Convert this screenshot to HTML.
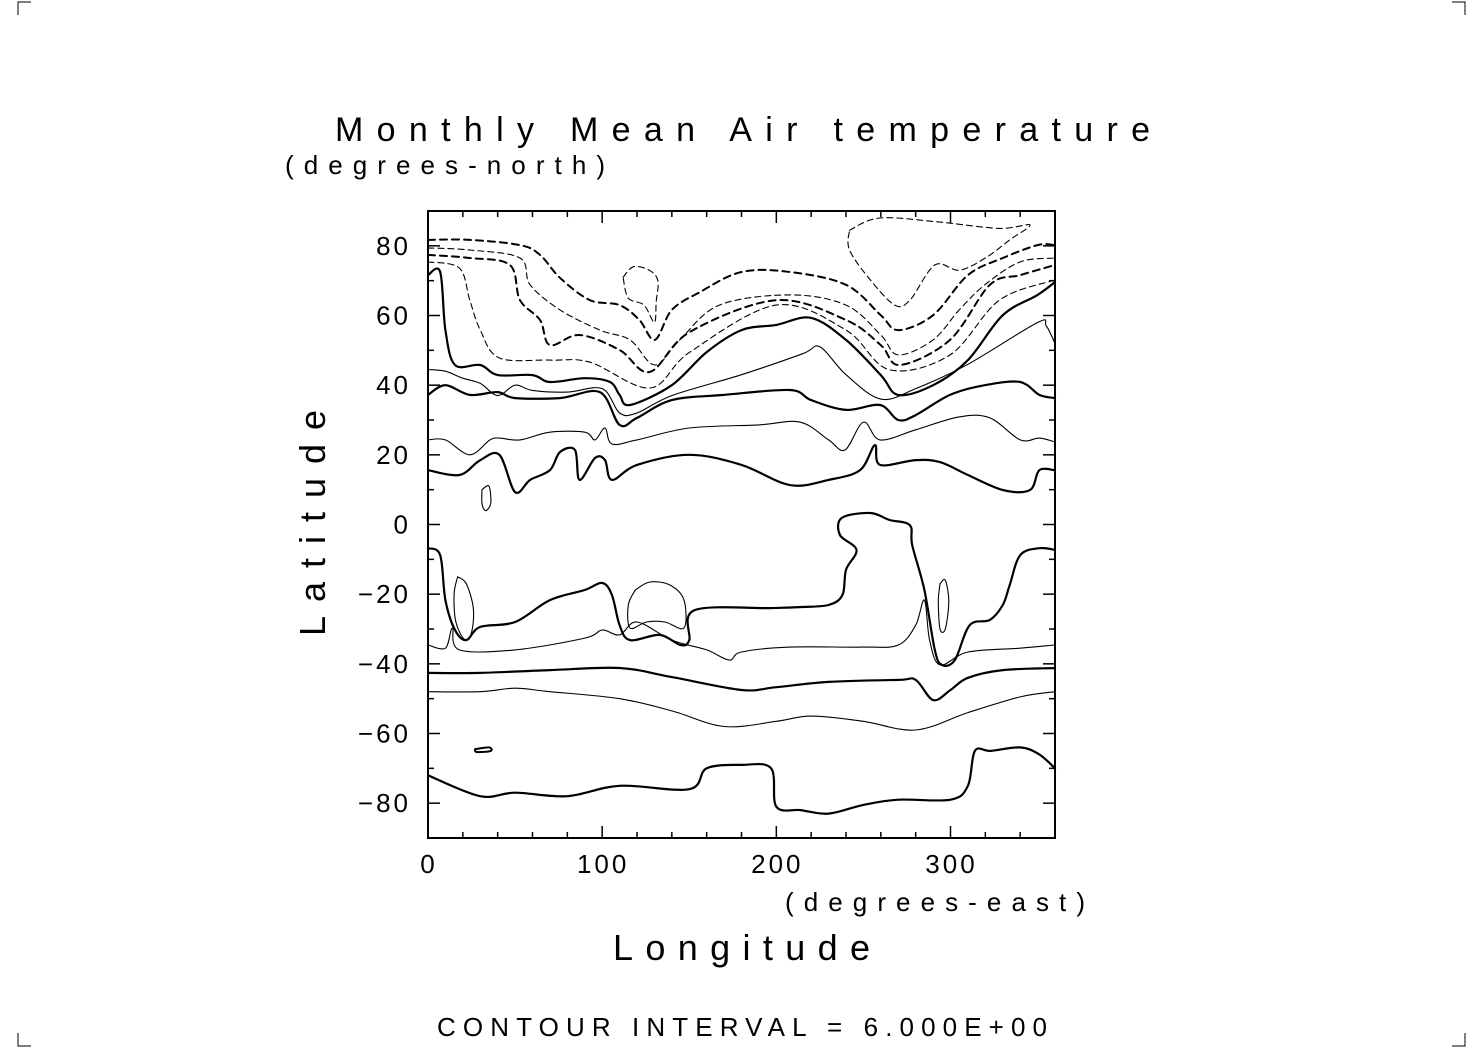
<!DOCTYPE html>
<html><head><meta charset="utf-8"><style>
html,body{margin:0;padding:0;background:#fff;}
svg{display:block;font-family:"Liberation Sans",sans-serif;}
</style></head><body>
<svg id="chart" width="1483" height="1049" viewBox="0 0 1483 1049" xmlns="http://www.w3.org/2000/svg">
<g stroke="#000" stroke-width="1" fill="none">
<path d="M18 15 V2 H31"/><path d="M1452 2 H1465 V15"/><path d="M18 1033 V1046 H31"/><path d="M1452 1046 H1465 V1033"/>
</g>
<text x="335" y="141" font-size="34" textLength="815" lengthAdjust="spacing">Monthly Mean Air temperature</text>
<text x="285" y="174" font-size="26" textLength="320" lengthAdjust="spacing">(degrees-north)</text>
<text x="785" y="911" font-size="26" textLength="300" lengthAdjust="spacing">(degrees-east)</text>
<text x="613" y="960" font-size="36" textLength="257" lengthAdjust="spacing">Longitude</text>
<text transform="translate(325,636) rotate(-90)" font-size="36" textLength="226" lengthAdjust="spacing">Latitude</text>
<text x="437" y="1036" font-size="26" textLength="610" lengthAdjust="spacing">CONTOUR INTERVAL = 6.000E+00</text>
<g id="axes"></g>
<g id="contours" fill="none" stroke="#000" stroke-linejoin="round" stroke-linecap="round"></g>
<rect x="428" y="211" width="627" height="627" fill="none" stroke="#000" stroke-width="2"/>
</svg>
<script>
const xTicks=[0,100,200,300];
const yTicks=[80,60,40,20,0,-20,-40,-60,-80];
const xTickLabels=["0","100","200","300"];
const yTickLabels=["80","60","40","20","0","\u221220","\u221240","\u221260","\u221280"];
const cBottom=[[0,-72],[30,-78],[50,-77],[80,-78],[110,-75],[150,-76],[160,-70],[180,-69],[197,-70],[200,-81],[214,-82],[230,-83],[250,-80.5],[270,-79],[300,-79],[310,-75],[314,-65],[323,-65],[340,-64],[351,-66],[360,-70]];
const cSmallSouth=[[27,-64.5],[35,-64],[36,-65],[28,-65.3],[27,-64.5]];
const cM48=[[0,-48],[30,-48],[50,-47],[70,-48],[110,-50],[140,-53.5],[170,-58],[200,-56.5],[220,-55],[250,-56.5],[280,-59],[310,-54],[340,-49.5],[360,-48]];
const cM42=[[0,-42.6],[30,-42.6],[70,-41.8],[110,-41.2],[140,-43.8],[180,-47.5],[200,-46.7],[230,-45.2],[270,-44.6],[280,-44.6],[290,-50.4],[300,-47.5],[310,-44],[330,-41.8],[360,-41.2]];
const cM36=[[0,-34.6],[10,-35.5],[14,-29.7],[18,-36],[50,-36],[90,-32.6],[100,-30.3],[110,-31.7],[120,-28],[140,-33.2],[160,-36],[173,-38.9],[180,-36.6],[208,-35.2],[250,-35.2],[270,-34.6],[280,-28.9],[285,-21.7],[288,-33.2],[294,-40.3],[310,-36.6],[340,-35.5],[360,-34.6]];
const cBig=[[0,-6.8],[7,-8.8],[10,-21.7],[15.5,-30.3],[22,-33.2],[30,-29.4],[50,-28],[70,-21.7],[90,-18.8],[100,-16.8],[105.6,-20.2],[110,-28.9],[116,-33.2],[133,-31.7],[145,-34.6],[150,-33.2],[153,-24.6],[196,-24],[213.5,-23.7],[230,-23.1],[238,-20.2],[240,-13],[246,-7.3],[236.5,-3],[237.6,1.9],[254,3.3],[265,1.3],[276.7,-0.2],[278,-5.9],[285,-18.8],[291,-36],[295,-40.3],[302.5,-38.9],[311,-28.9],[322.6,-27.4],[330,-23.1],[334,-17.4],[340,-8.8],[351,-6.8],[360,-7.3]];
const cLoopA=[[17,-15],[22,-17],[26,-24],[25,-31],[21,-33],[16,-28],[15,-20],[17,-15]];
const cLoopB=[[119,-18.8],[127.4,-16.5],[139,-17.4],[147,-21.7],[147,-29.7],[136,-28],[125.4,-28],[116,-29.7],[115,-23.1],[119,-18.8]];
const cLoopC=[[294,-17],[297,-16],[299,-22],[297,-30],[294,-30],[293,-22],[294,-17]];
const cP15=[[0,15.6],[18,14.2],[30,18.5],[41,20],[50,9.3],[58.6,12.8],[70,15.6],[75.8,20.8],[84.4,21.4],[87,12.8],[95.9,19.1],[101.6,18.5],[105.6,12.8],[120,17.1],[150,20],[180,17.1],[207.8,11.3],[230,12.8],[248,15.6],[256.6,22.8],[259.5,17.1],[280,18.5],[294,17.9],[310,14.2],[330,9.9],[345.6,9.9],[351,15.6],[360,15.6]];
const cLoopD=[[31,10],[35,11],[36,6],[33,4],[31,6],[31,10]];
const cP24=[[0,24.3],[10,24.3],[24,20],[35.6,24.3],[41,24.8],[52.8,24.3],[70,26.5],[90,26.5],[95.9,24.3],[101.6,27.7],[105.6,23.1],[120,24.3],[150,27.7],[190,28.6],[213.5,29.4],[230,24.3],[239.4,21.4],[250,29.4],[259.5,24.3],[280,27.2],[305,30.9],[322.6,30.6],[340,24.3],[351,24.8],[360,23.7]];
const cP36=[[0,37.2],[10,40],[24,37.2],[40,38],[50,36.3],[75.8,36.3],[98.7,38],[110,28.6],[120,30.6],[140,35.7],[170,37.2],[207.8,38.6],[220,35.7],[240,32.9],[259.5,34.3],[270,30],[280,31.4],[299.7,37.2],[319.7,40],[340,40.9],[351,37.2],[360,36.3]];
const cP42=[[0,44.5],[10,44],[20,42],[30,40.5],[40,37],[50,40],[60,38.5],[80,38],[100,39],[110,32],[120,32],[140,37],[180,43],[215,49],[225,51],[240,43],[260,36],[280,39],[310,46],[350,58],[355,57],[360,52]];
const cP48=[[0,71.6],[7,72.5],[10,55.8],[15.5,45.8],[30,45.8],[40,42.9],[60,42.9],[70,40.9],[90,42],[104.5,40.9],[110,37.2],[116,34.3],[140,40],[160,49.5],[180,55.8],[200,57.3],[220,59.3],[240,53],[260,42.9],[270,37.2],[290,40],[310,47.2],[330,60.1],[350,65.9],[360,69.6]];
const dA=[[0,81.7],[24,81.7],[52.8,80.2],[64.3,77.4],[75.8,70.8],[93,64.4],[110,63],[121.4,58.7],[130.3,53],[140,61.6],[156,66.7],[180,72.5],[207.8,72.5],[240,68.8],[260,60.1],[270,55.8],[290,60.1],[310,71.6],[330,76.5],[350,80.2],[360,80.2]];
const dB=[[0,79.4],[24,78.8],[52.8,76.5],[58.6,68.8],[75.8,61.6],[98.7,55.8],[116,53],[130.3,45.8],[144.6,53],[167.3,63],[207.8,65.9],[240,63],[260,54.4],[270,48.7],[290,53],[305,61.6],[319.7,68.8],[340,75.4],[360,76.5]];
const dC=[[0,77.4],[24,76.5],[47,74.5],[52.8,64.4],[64.3,58.7],[70,51.5],[87,54.4],[110,50.1],[127.4,43.8],[150.4,55.3],[200,64.4],[240,58.7],[260,51.5],[271,45.8],[299.7,53],[322.6,68.8],[340,71.6],[360,74.5]];
const dD=[[0,75.4],[18,73.6],[24,64.4],[30,55.8],[41,47.8],[70,47.2],[93,46.6],[127.4,39.2],[150.4,49.5],[200,63],[240,55.8],[265,44.4],[299.7,48.7],[328,64.4],[360,70.2]];
const dLoopE=[[112,71],[118,74],[127,73],[132,70],[131,64],[130,58],[124,63],[115,65],[112,71]];
const dLoopF=[[242,84.5],[259.5,88],[294,86.8],[328,85],[345.6,86],[334,81.7],[320,76.5],[305,73],[291,74.5],[276.7,64.4],[268,63],[254,70.2],[242,78.8],[242,84.5]];

const X0=428,X1=1055,Y0=838,Y1=211;
function xs(lon){return X0+(lon-0)/(360-0)*(X1-X0);}
function ys(lat){return Y0-(lat+90)/180*(Y0-Y1);}
const NS="http://www.w3.org/2000/svg";
const axes=document.getElementById('axes');
const cg=document.getElementById('contours');
function mk(tag,attrs,parent){const e=document.createElementNS(NS,tag);for(const k in attrs)e.setAttribute(k,attrs[k]);parent.appendChild(e);return e;}
for(let lat=-80;lat<=80;lat+=10){
  const len=(lat%20===0)?12:6;const y=ys(lat);
  const t1=mk('line',{x1:X0,x2:X0+len,y1:y,y2:y,stroke:'#000','stroke-width':1.5},axes);
  
  
  const t2=mk('line',{x1:X1,x2:X1-len,y1:y,y2:y,stroke:'#000','stroke-width':1.5},axes);
  
  
}
for(let lon=20;lon<360;lon+=20){
  const len=(lon%100===0)?12:6;const x=xs(lon);
  const t1=mk('line',{x1:x,x2:x,y1:Y0,y2:Y0-len,stroke:'#000','stroke-width':1.5},axes);
  
  
  const t2=mk('line',{x1:x,x2:x,y1:Y1,y2:Y1+len,stroke:'#000','stroke-width':1.5},axes);
  
  
}
yTicks.forEach((v,i)=>{
  const t=mk('text',{x:411,y:ys(v)+9,'font-size':26,'text-anchor':'end','letter-spacing':3},axes);
  t.textContent=yTickLabels[i];
  
  
});
xTicks.forEach((v,i)=>{
  const t=mk('text',{x:xs(v)+1,y:873,'font-size':26,'text-anchor':'middle','letter-spacing':3},axes);
  t.textContent=xTickLabels[i];
  
  
});
function smoothPath(pts){
  const P=pts.map(q=>[xs(q[0]),ys(q[1])]);
  let d='M'+P[0][0].toFixed(1)+' '+P[0][1].toFixed(1);
  for(let i=0;i<P.length-1;i++){
    const p0=P[Math.max(0,i-1)],p1=P[i],p2=P[i+1],p3=P[Math.min(P.length-1,i+2)];
    const c1=[p1[0]+(p2[0]-p0[0])/6,p1[1]+(p2[1]-p0[1])/6];
    const c2=[p2[0]-(p3[0]-p1[0])/6,p2[1]-(p3[1]-p1[1])/6];
    d+=' C'+c1[0].toFixed(1)+' '+c1[1].toFixed(1)+' '+c2[0].toFixed(1)+' '+c2[1].toFixed(1)+' '+p2[0].toFixed(1)+' '+p2[1].toFixed(1);
  }
  return d;
}
const lines=[
 [cBottom,2.2,null],[cSmallSouth,2,null],[cM48,1.1,null],[cM42,2.2,null],[cM36,1.1,null],
 [cBig,2.2,null],[cLoopA,1.1,null],[cLoopB,1.1,null],[cLoopC,1.1,null],
 [cP15,2.2,null],[cLoopD,1.1,null],[cP24,1.1,null],[cP36,2.2,null],[cP42,1.1,null],[cP48,2.2,null],
 [dA,2,'7 5'],[dB,1.1,'6 4'],[dC,2,'7 5'],[dD,1.1,'6 4'],[dLoopE,1.1,'6 4'],[dLoopF,1.1,'6 4']
];
lines.forEach(([pts,w,dash])=>{
  const p=mk('path',{d:smoothPath(pts),'stroke-width':w},cg);
  if(dash)p.setAttribute('stroke-dasharray',dash);
  
  
});
</script>
</body></html>
